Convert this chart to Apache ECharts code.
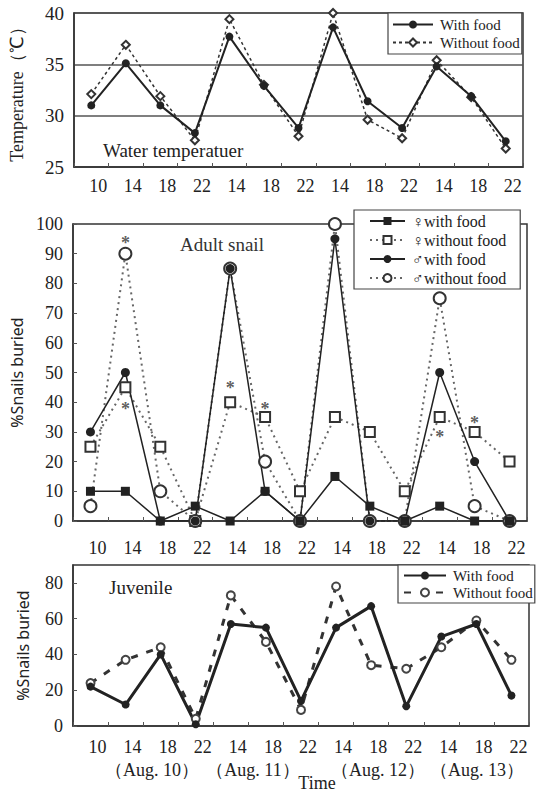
<!DOCTYPE html>
<html>
<head>
<meta charset="utf-8">
<script src="https://cdn.jsdelivr.net/npm/echarts@6/dist/echarts.min.js"></script>
<style>
  html, body { margin: 0; padding: 0; background: #fff; }
  #chart { width: 538px; height: 792px; }
</style>
</head>
<body>
<div id="chart"></div>
<script>
// sampling times (hour of day), Aug 10 - Aug 13
const times = ['10', '14', '18', '22', '14', '18', '22', '14', '18', '22', '14', '18', '22'];
const dayLabels = ['（Aug. 10）', '（Aug. 11）', '（Aug. 12）', '（Aug. 13）'];

// water temperature (°C)
const tempWithFood = [31.0, 35.1, 31.0, 28.3, 37.7, 32.9, 28.8, 38.6, 31.4, 28.8, 34.8, 31.9, 27.5];
const tempWithoutFood = [32.1, 36.9, 31.9, 27.6, 39.4, 33.0, 28.0, 40.0, 29.6, 27.8, 35.4, 31.8, 26.8];

// adult snails, % buried
const femaleWithFood = [10, 10, 0, 5, 0, 10, 0, 15, 5, 0, 5, 0, 0];
const femaleWithoutFood = [25, 45, 25, 0, 40, 35, 10, 35, 30, 10, 35, 30, 20];
const maleWithFood = [30, 50, 0, 0, 85, 10, 0, 95, 0, 0, 50, 20, 0];
const maleWithoutFood = [5, 90, 10, 0, 85, 20, 0, 100, 0, 0, 75, 5, 0];
// significance marks [time index, value]
const asterisks = [[1, 95], [1, 39], [4, 46], [5, 39], [10, 29.5], [11, 34.5]];

// juvenile snails, % buried
const juvWithFood = [22, 12, 40, 1, 57, 55, 14, 55, 67, 11, 50, 57, 17];
const juvWithoutFood = [24, 37, 44, 4, 73, 47, 9, 78, 34, 32, 44, 59, 37];

const serif = 'Liberation Serif';
const sans = 'Noto Sans';
const ink = '#222';
const grey = '#666';

const legendNames = {
  tWith: 'With food', tWithout: 'Without food',
  fWith: '♀with food', fWithout: '♀without food',
  mWith: '♂with food', mWithout: '♂without food',
  jWith: 'With food', jWithout: 'Without food'
};

const chart = echarts.init(document.getElementById('chart'), null, { renderer: 'svg' });

function xAxis(gridIndex, margin) {
  return {
    type: 'category',
    gridIndex: gridIndex,
    data: times,
    boundaryGap: true,
    axisLine: { lineStyle: { color: '#333', width: 1.5 } },
    axisTick: { show: true, inside: true, length: 4, lineStyle: { color: '#555' } },
    axisLabel: {
      interval: 0, margin: margin, color: ink, fontFamily: serif, fontSize: 18,
      padding: [0, 0, 0, 14]
    },
    splitLine: { show: false }
  };
}

function legend(names, left, top, padding, itemWidth, fontSize, itemGap) {
  return {
    data: names,
    orient: 'vertical',
    left: left, top: top,
    padding: padding,
    itemGap: itemGap,
    itemWidth: itemWidth,
    itemHeight: 10,
    backgroundColor: '#fff',
    borderColor: '#444',
    borderWidth: 1.2,
    borderRadius: 0,
    selectedMode: false,
    formatter: function (n) { return legendNames[n]; },
    textStyle: { fontFamily: serif, fontSize: fontSize, color: ink, padding: [0, 0, 0, 2] }
  };
}

const option = {
  animation: false,
  backgroundColor: '#fff',
  grid: [
    { left: 73, right: 15, top: 13, height: 154, show: true, borderColor: '#333', borderWidth: 1.5 },
    { left: 73, right: 11, top: 224, height: 297, show: true, borderColor: '#333', borderWidth: 1.5 },
    { left: 73, right: 9, top: 565, height: 161, show: true, borderColor: '#333', borderWidth: 1.5 }
  ],
  xAxis: [xAxis(0, 10), xAxis(1, 18), xAxis(2, 12)],
  yAxis: [
    {
      type: 'value', gridIndex: 0, min: 25, max: 40, interval: 5,
      name: 'Temperature（℃）', nameLocation: 'middle', nameGap: 48, nameRotate: 90,
      nameTextStyle: { fontFamily: serif, fontSize: 18, color: ink },
      axisLine: { show: true, lineStyle: { color: '#333', width: 1.5 } },
      axisTick: { show: false },
      axisLabel: { color: ink, fontFamily: serif, fontSize: 19, margin: 10 },
      splitLine: { show: true, lineStyle: { color: '#555', width: 1.5 } }
    },
    {
      type: 'value', gridIndex: 1, min: 0, max: 100, interval: 10,
      name: '%Snails buried', nameLocation: 'middle', nameGap: 42, nameRotate: 90,
      nameTextStyle: { fontFamily: sans, fontSize: 16, color: ink },
      axisLine: { show: true, lineStyle: { color: '#333', width: 1.5 } },
      axisTick: { show: true, inside: true, length: 4, lineStyle: { color: '#555' } },
      axisLabel: { color: ink, fontFamily: serif, fontSize: 18, margin: 10 },
      splitLine: { show: false }
    },
    {
      type: 'value', gridIndex: 2, min: 0, max: 90, interval: 20,
      name: '%Snails buried', nameLocation: 'middle', nameGap: 42, nameRotate: 90,
      nameTextStyle: { fontFamily: sans, fontSize: 16, color: ink },
      axisLine: { show: true, lineStyle: { color: '#333', width: 1.5 } },
      axisTick: { show: true, inside: true, length: 4, lineStyle: { color: '#555' } },
      axisLabel: { color: ink, fontFamily: serif, fontSize: 18, margin: 10, showMaxLabel: false },
      splitLine: { show: false }
    }
  ],
  legend: [
    legend(['tWith', 'tWithout'], 388, 13, [4, 2, 4, 4], 40, 15, 3),
    legend(['fWith', 'fWithout', 'mWith', 'mWithout'], 354, 210, [3, 14, 3, 15], 35, 16, 3),
    legend(['jWith', 'jWithout'], 398, 565, [3, 2, 3, 5], 42, 15, 2)
  ],
  series: [
    {
      name: 'tWithout', type: 'line', xAxisIndex: 0, yAxisIndex: 0, data: tempWithoutFood,
      symbol: 'emptyDiamond', symbolSize: 8,
      lineStyle: { color: '#333', width: 1.5, type: [3, 3] },
      itemStyle: { color: '#333', borderWidth: 2 }
    },
    {
      name: 'tWith', type: 'line', xAxisIndex: 0, yAxisIndex: 0, data: tempWithFood,
      symbol: 'circle', symbolSize: 8,
      lineStyle: { color: ink, width: 2 },
      itemStyle: { color: ink }
    },
    {
      name: 'fWithout', type: 'line', xAxisIndex: 1, yAxisIndex: 1, data: femaleWithoutFood,
      symbol: 'emptyRect', symbolSize: 10,
      lineStyle: { color: grey, width: 2, type: [2, 4] },
      itemStyle: { color: '#333', borderWidth: 1.5 }
    },
    {
      name: 'mWithout', type: 'line', xAxisIndex: 1, yAxisIndex: 1, data: maleWithoutFood,
      symbol: 'emptyCircle', symbolSize: 12,
      lineStyle: { color: grey, width: 2, type: [2, 4] },
      itemStyle: { color: '#333', borderWidth: 1.5 }
    },
    {
      name: 'fWith', type: 'line', xAxisIndex: 1, yAxisIndex: 1, data: femaleWithFood,
      symbol: 'rect', symbolSize: 9,
      lineStyle: { color: ink, width: 1.5 },
      itemStyle: { color: ink }
    },
    {
      name: 'mWith', type: 'line', xAxisIndex: 1, yAxisIndex: 1, data: maleWithFood,
      symbol: 'circle', symbolSize: 9,
      lineStyle: { color: ink, width: 1.5 },
      itemStyle: { color: ink }
    },
    {
      name: 'stars', type: 'scatter', xAxisIndex: 1, yAxisIndex: 1, data: asterisks,
      symbolSize: 0,
      label: {
        show: true, position: 'inside', formatter: '*', offset: [0, 4],
        fontFamily: serif, fontSize: 18, fontWeight: 'bold', color: '#333'
      }
    },
    {
      name: 'jWithout', type: 'line', xAxisIndex: 2, yAxisIndex: 2, data: juvWithoutFood,
      symbol: 'emptyCircle', symbolSize: 8,
      lineStyle: { color: '#333', width: 3, type: [7, 9] },
      itemStyle: { color: '#444', borderWidth: 1.5 }
    },
    {
      name: 'jWith', type: 'line', xAxisIndex: 2, yAxisIndex: 2, data: juvWithFood,
      symbol: 'circle', symbolSize: 8,
      lineStyle: { color: ink, width: 3 },
      itemStyle: { color: ink }
    }
  ],
  graphic: [
    { type: 'text', left: 103, top: 141, style: { text: 'Water temperatuer', font: '19px ' + serif, fill: ink } },
    { type: 'text', left: 180, top: 235, style: { text: 'Adult snail', font: '19px ' + serif, fill: '#333' } },
    { type: 'text', left: 109, top: 578, style: { text: 'Juvenile', font: '19px ' + serif, fill: ink } },
    { type: 'text', x: 152, y: 770, style: { text: dayLabels[0], font: '18px ' + serif, fill: ink, align: 'center', verticalAlign: 'middle' } },
    { type: 'text', x: 253, y: 770, style: { text: dayLabels[1], font: '18px ' + serif, fill: ink, align: 'center', verticalAlign: 'middle' } },
    { type: 'text', x: 378, y: 770, style: { text: dayLabels[2], font: '18px ' + serif, fill: ink, align: 'center', verticalAlign: 'middle' } },
    { type: 'text', x: 477, y: 770, style: { text: dayLabels[3], font: '18px ' + serif, fill: ink, align: 'center', verticalAlign: 'middle' } },
    { type: 'text', x: 317, y: 783, style: { text: 'Time', font: '18px ' + serif, fill: ink, align: 'center', verticalAlign: 'middle' } }
  ]
};

chart.setOption(option);
</script>
</body>
</html>
